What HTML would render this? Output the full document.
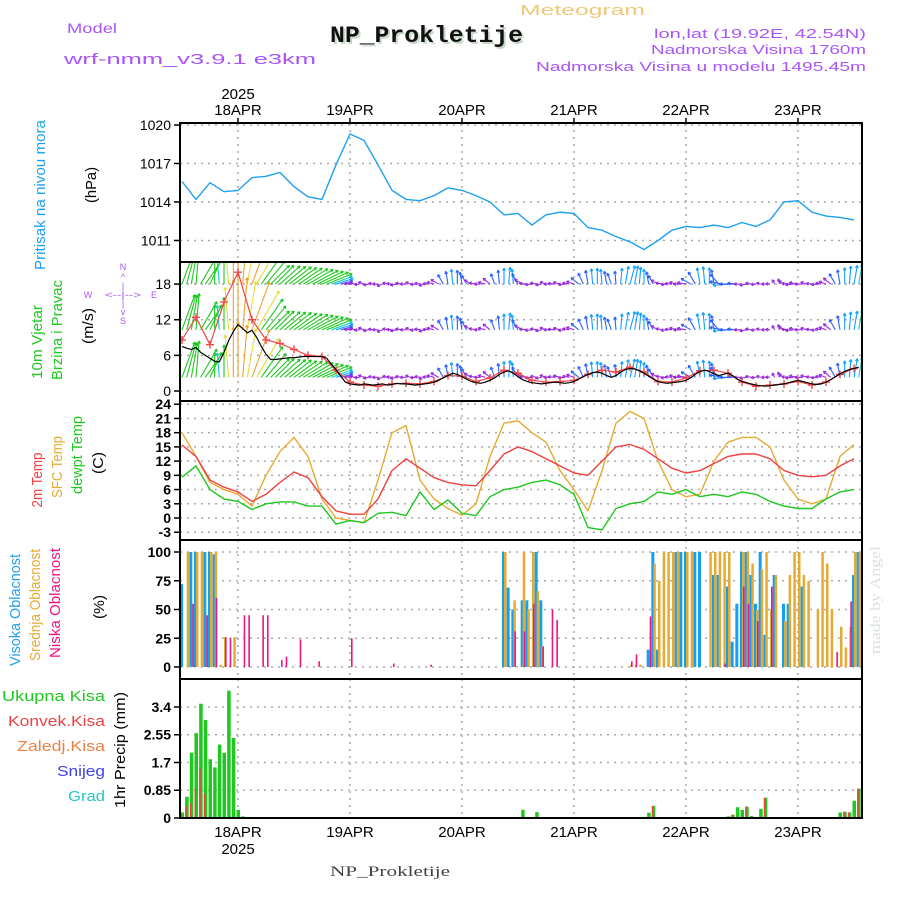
<!DOCTYPE html>
<html><head><meta charset="utf-8"><title>Meteogram NP_Prokletije</title>
<style>
html,body{margin:0;padding:0;background:#fff;}
svg{display:block;font-family:"Liberation Sans",sans-serif;}
</style></head>
<body>
<svg id="chart" width="900" height="900" viewBox="0 0 900 900" xmlns="http://www.w3.org/2000/svg">
<defs>
<clipPath id="cp1"><rect x="180" y="123" width="682" height="139"/></clipPath>
<clipPath id="cp2"><rect x="180" y="262" width="682" height="139"/></clipPath>
<clipPath id="cp3"><rect x="180" y="401" width="682" height="139"/></clipPath>
<clipPath id="cp4"><rect x="180" y="540" width="682" height="139"/></clipPath>
<clipPath id="cp5"><rect x="180" y="679" width="682" height="139"/></clipPath>
</defs>
<g lengthAdjust="spacingAndGlyphs">
<text x="67" y="33" fill="#a855f7" font-size="14" textLength="50" lengthAdjust="spacingAndGlyphs">Model</text>
<text x="64" y="64" fill="#a855f7" font-size="15" textLength="252" lengthAdjust="spacingAndGlyphs">wrf-nmm_v3.9.1 e3km</text>
<text x="332" y="44" fill="#c8d8c8" font-family="Liberation Mono,monospace" font-weight="bold" font-size="23" textLength="193" lengthAdjust="spacingAndGlyphs">NP_Prokletije</text>
<text x="330" y="42" fill="#111" font-family="Liberation Mono,monospace" font-weight="bold" font-size="23" textLength="193" lengthAdjust="spacingAndGlyphs">NP_Prokletije</text>
<text x="520" y="15" fill="#f0c878" font-size="15" textLength="125" lengthAdjust="spacingAndGlyphs">Meteogram</text>
<text x="866" y="38" fill="#a855f7" font-size="13" text-anchor="end" textLength="212" lengthAdjust="spacingAndGlyphs">lon,lat (19.92E, 42.54N)</text>
<text x="866" y="54" fill="#a855f7" font-size="13" text-anchor="end" textLength="215" lengthAdjust="spacingAndGlyphs">Nadmorska Visina 1760m</text>
<text x="866" y="71" fill="#a855f7" font-size="13" text-anchor="end" textLength="330" lengthAdjust="spacingAndGlyphs">Nadmorska Visina u modelu 1495.45m</text>
<text x="880" y="600" fill="#d8e4d8" font-family="Liberation Serif,serif" font-size="15" text-anchor="middle" transform="rotate(-90 880 600)" textLength="108" lengthAdjust="spacingAndGlyphs">made by Angel</text>
<text x="330" y="876" fill="#444" font-family="Liberation Serif,serif" font-size="15" textLength="120" lengthAdjust="spacingAndGlyphs">NP_Prokletije</text>

<text x="45" y="195" fill="#1ea0f0" font-size="15" text-anchor="middle" transform="rotate(-90 45 195)" textLength="150" lengthAdjust="spacingAndGlyphs">Pritisak na nivou mora</text>
<text x="96" y="185" fill="#000" font-size="15" text-anchor="middle" transform="rotate(-90 96 185)" textLength="36" lengthAdjust="spacingAndGlyphs">(hPa)</text>
<text x="42" y="342" fill="#1ec81e" font-size="15" text-anchor="middle" transform="rotate(-90 42 342)" textLength="74" lengthAdjust="spacingAndGlyphs">10m Vjetar</text>
<text x="62" y="330" fill="#1ec81e" font-size="15" text-anchor="middle" transform="rotate(-90 62 330)" textLength="100" lengthAdjust="spacingAndGlyphs">Brzina i Pravac</text>
<text x="93" y="326" fill="#000" font-size="15" text-anchor="middle" transform="rotate(-90 93 326)" textLength="36" lengthAdjust="spacingAndGlyphs">(m/s)</text>
<g fill="#a855f7" font-size="9" text-anchor="middle">
<text x="123" y="270">N</text><text x="123" y="280">^</text><text x="123" y="289">|</text>
<text x="88" y="298">W</text><text x="123" y="298" textLength="36" lengthAdjust="spacingAndGlyphs">&lt;--|--&gt;</text><text x="154" y="298">E</text>
<text x="123" y="307">|</text><text x="123" y="315">v</text><text x="123" y="324">S</text>
</g>
<text x="42" y="480" fill="#f04040" font-size="15" text-anchor="middle" transform="rotate(-90 42 480)" textLength="55" lengthAdjust="spacingAndGlyphs">2m Temp</text>
<text x="62" y="467" fill="#e6aa32" font-size="15" text-anchor="middle" transform="rotate(-90 62 467)" textLength="62" lengthAdjust="spacingAndGlyphs">SFC Temp</text>
<text x="82" y="455" fill="#1ec81e" font-size="15" text-anchor="middle" transform="rotate(-90 82 455)" textLength="78" lengthAdjust="spacingAndGlyphs">dewpt Temp</text>
<text x="103" y="463" fill="#000" font-size="15" text-anchor="middle" transform="rotate(-90 103 463)" textLength="22" lengthAdjust="spacingAndGlyphs">(C)</text>
<text x="20" y="610" fill="#1ea0f0" font-size="15" text-anchor="middle" transform="rotate(-90 20 610)" textLength="112" lengthAdjust="spacingAndGlyphs">Visoka Oblacnost</text>
<text x="40" y="605" fill="#e6aa32" font-size="15" text-anchor="middle" transform="rotate(-90 40 605)" textLength="112" lengthAdjust="spacingAndGlyphs">Srednja Oblacnost</text>
<text x="60" y="603" fill="#f01482" font-size="15" text-anchor="middle" transform="rotate(-90 60 603)" textLength="110" lengthAdjust="spacingAndGlyphs">Niska Oblacnost</text>
<text x="104" y="607" fill="#000" font-size="15" text-anchor="middle" transform="rotate(-90 104 607)" textLength="24" lengthAdjust="spacingAndGlyphs">(%)</text>
<g font-size="15" text-anchor="end">
<text x="105" y="701" fill="#1ec81e" textLength="103" lengthAdjust="spacingAndGlyphs">Ukupna Kisa</text>
<text x="105" y="726" fill="#f04040" textLength="97" lengthAdjust="spacingAndGlyphs">Konvek.Kisa</text>
<text x="105" y="751" fill="#f08040" textLength="88" lengthAdjust="spacingAndGlyphs">Zaledj.Kisa</text>
<text x="105" y="776" fill="#4040f0" textLength="48" lengthAdjust="spacingAndGlyphs">Snijeg</text>
<text x="105" y="801" fill="#20c8c8" textLength="37" lengthAdjust="spacingAndGlyphs">Grad</text>
</g>
<text x="125" y="750" fill="#000" font-size="15" text-anchor="middle" transform="rotate(-90 125 750)" textLength="116" lengthAdjust="spacingAndGlyphs">1hr Precip (mm)</text>
</g>

<g id="grid"></g>
<g id="marks"></g>
<g id="axes"></g>
</svg>
<script>
// ---------- data ----------
const dayLabels = ["18APR","19APR","20APR","21APR","22APR","23APR"];
const dayHours = [0,24,48,72,96,120];
const yearLabel = "2025";
const hours3 = [-12,-9,-6,-3,0,3,6,9,12,15,18,21,24,27,30,33,36,39,42,45,48,51,54,57,60,63,66,69,72,75,78,81,84,87,90,93,96,99,102,105,108,111,114,117,120,123,126,129,132];
const pressure = [1015.6,1014.2,1015.5,1014.8,1014.9,1015.9,1016.0,1016.3,1015.2,1014.4,1014.2,1016.9,1019.3,1018.8,1016.9,1014.9,1014.2,1014.1,1014.5,1015.1,1014.9,1014.5,1014.0,1013.0,1013.1,1012.2,1013.0,1013.2,1013.1,1012.0,1011.8,1011.3,1010.9,1010.3,1011.0,1011.8,1012.1,1012.0,1012.2,1012.0,1012.4,1012.1,1012.6,1014.0,1014.1,1013.2,1012.9,1012.8,1012.6];
const temp2m = [15.4,13,8,6.5,5.5,3.5,5,7.5,9.7,8.5,4.5,1.5,0.8,0.8,4,10,12.5,10.5,8.5,7.5,7,6.8,10,13.5,15,14,12.5,11,9.5,9,12,15,15.5,14.5,12.5,10.5,9.5,10,11.5,13,13.5,13.5,12.5,10,9,8.7,9,11,12.5];
const tempSfc = [18,13,7.5,6,5,2.5,9,14,17,13,4,0,-0.5,-1,8,18,19.5,8,4,2,0.6,3,13,20,20.5,18,16,10,6,1.5,10,20,22.5,21,12,6,4.5,5,12,16,17,17,15,8,4,3,4,13,15.5];
const dewpoint = [8.6,11,6,4,3.5,1.8,3,3.4,3.4,2.5,2.5,-1.3,-0.5,-1,1,1.2,0.5,5.5,1.8,3.8,1,0.5,4.5,6,6.5,7.5,8,7,5,-2,-2.5,2,3,3.5,5.5,5,6,4.5,5,4.5,5.5,5,3.5,2.5,2,2,4,5.5,6];
const windGust = [8.6,12.4,7.8,15,20,12,8.6,8,7,6,5.8,3.5,1.5,1.0,0.8,1.2,1.3,1.2,1.6,2.6,2.5,1.6,2.2,3.5,3.0,1.8,1.5,1.6,1.8,2.8,3.5,3.2,4.0,3.2,1.6,1.5,2.2,3.4,3.5,3.0,1.5,0.8,1.0,1.2,1.6,1.0,1.5,2.8,3.8];
const windStart = -12;
const windSpeed = [7.5,7.2,7.0,7.3,6.5,6.0,5.5,5.0,4.9,6.5,8.5,10.0,
11.2,10.5,9.8,10.2,9.0,7.5,6.2,5.3,5.3,5.4,5.5,5.6,
5.6,5.7,5.8,5.8,5.8,5.8,5.8,5.5,4.5,3.6,2.5,1.5,
1.2,1.1,1.0,1.2,1.1,1.0,1.1,1.2,1.0,1.1,1.3,1.2,
1.2,1.1,1.0,1.1,1.2,1.3,1.5,1.8,2.2,2.6,3.0,2.8,
2.4,2.0,1.6,1.4,1.3,1.5,1.8,2.2,2.8,3.2,3.4,3.0,
2.4,1.9,1.6,1.4,1.3,1.2,1.3,1.4,1.5,1.4,1.3,1.4,
1.6,2.0,2.4,2.8,3.1,3.2,3.0,2.6,2.3,2.6,3.2,3.6,
3.8,3.7,3.4,3.0,2.5,2.0,1.6,1.4,1.3,1.4,1.5,1.6,
1.8,2.2,2.8,3.3,3.5,3.3,2.9,2.6,2.8,3.0,2.6,2.0,
1.6,1.4,1.2,1.0,0.9,0.8,0.9,1.0,1.1,1.2,1.4,1.6,
1.8,1.6,1.4,1.2,1.1,1.2,1.5,1.9,2.4,2.9,3.3,3.6,3.8,4.0];
const windDir = [70,75,80,85,60,55,65,90,95,90,95,90,
90,85,80,70,60,55,50,45,45,42,40,38,
36,34,32,30,28,26,24,22,20,18,15,10,
175,165,185,160,190,170,180,200,165,175,190,170,
180,160,185,170,195,175,165,150,120,100,95,90,
100,120,150,170,180,165,140,110,95,90,85,95,
120,150,175,185,170,190,160,180,175,165,185,170,
160,140,115,100,95,90,95,100,110,95,85,80,
75,80,85,90,100,120,150,170,185,175,165,180,
170,150,120,100,95,90,100,130,170,185,180,175,
180,190,170,185,165,180,175,120,100,150,175,185,
170,180,165,175,185,170,160,140,120,100,90,85,80,80];
const windRows = [18,10.3,2.3];
const highHours = [-12,-10,-9,-7,-6,-5,57,58,59,61,62,64,65,88,89,90,94,95,96,98,99,102,103,105,106,107,108,109,110,111,112,113,115,117,118,121,132,133];
const highVals  = [72,100,100,100,100,98,100,69,50,58,58,100,58,15,100,15,100,100,100,100,100,80,80,70,22,55,100,100,80,55,100,28,80,55,55,70,80,100];
const midHours = [-11,-9,-8,-6,-5,-4,-3,-1,57,59,61,62,63,64,65,84,85,86,89,90,91,92,93,94,96,97,101,102,103,104,105,108,109,110,111,112,113,114,115,117,118,119,120,121,122,124,125,126,127,129,130,131,132,133];
const midVals  = [100,100,100,100,100,2,26,26,100,58,100,50,100,66,18,2,2,2,90,75,100,100,100,100,100,100,100,100,100,100,100,100,100,90,50,85,100,50,80,40,80,100,100,80,75,50,100,90,50,35,17,35,100,100];
const lowHours = [-10,-7,-5,-3,-2,1,2,5,6,9,10,13,17,24,33,41,59,61,63,65,67,68,84,85,88,104,108,109,111,114,128,131];
const lowVals  = [55,45,60,26,25,45,45,45,45,6,9,24,5,25,3,2,31,31,55,18,50,41,5,11,44,3,70,55,40,70,13,57];
const rainHours = [-12,-11,-10,-9,-8,-7,-6,-5,-4,-3,-2,-1,0,1,60,61,64,88,89,105,106,107,108,109,110,111,112,113,114,128,129,130,131,132,133,134];
const rainTotal = [0.17,0.65,2.0,2.6,3.5,3.0,1.8,1.55,2.25,2.0,3.9,2.45,0.25,0.05,0.03,0.25,0.18,0.16,0.37,0.05,0.1,0.33,0.25,0.35,0.06,0.03,0.28,0.62,0.03,0.03,0.17,0.19,0.17,0.53,0.9,0.82];
const convHours = [-12,-11,-10,-9,-8,-7,89,106,109,113,130,131,133,134];
const convVals  = [0.17,0.35,0.45,0.9,1.5,0.75,0.37,0.1,0.35,0.62,0.19,0.17,0.9,0.82];
const presTicks = [1011,1014,1017,1020];
const windTicks = [0,6,12,18];
const tempTicks = [-3,0,3,6,9,12,15,18,21,24];
const cloudTicks = [0,25,50,75,100];
const precipTicks = [0,0.85,1.7,2.55,3.4];

// ---------- scales ----------
const L=180,R=862;
const X = t => 238 + t*112/24;
const Yp = p => 125 + (1020-p)*12.83;
const Yw = v => 391 - v*5.94;
const Yt = T => 518 - T*4.74;
const Yc = c => 667 - c*1.15;
const Yr = r => 818 - r*32.65;
const panels = [[123,262],[262,401],[401,540],[540,679],[679,818]];
const NS="http://www.w3.org/2000/svg";
const grid=document.getElementById('grid'), marks=document.getElementById('marks'), axes=document.getElementById('axes');
function mk(tag,attrs,parent){const e=document.createElementNS(NS,tag);for(const k in attrs)e.setAttribute(k,attrs[k]);parent.appendChild(e);return e;}

panels.forEach((pn,pi)=>{
  dayHours.forEach(h=>{
    const ln=mk('line',{x1:X(h),x2:X(h),y1:pn[0],y2:pn[1],stroke:'#aaa','stroke-width':1.5,'stroke-dasharray':'2,5'},grid);
    
    
  });
});
function hgrid(ticks,Y,labelFn,bold){
  ticks.forEach(v=>{
    const y=Y(v);
    const ln=mk('line',{x1:L,x2:R,y1:y,y2:y,stroke:'#aaa','stroke-width':1.5,'stroke-dasharray':'2,5'},grid);
    
    
    const tk=mk('line',{x1:L-6,x2:L,y1:y,y2:y,stroke:'#000','stroke-width':1.5},axes);
    
    
    const tx=mk('text',{x:L-9,y:y+5,'text-anchor':'end','font-size':14,fill:'#000','font-weight':bold?'bold':'normal'},axes);
    tx.textContent=labelFn(v);
    
    
  });
}
hgrid(presTicks,Yp,v=>v,false);
hgrid(windTicks,Yw,v=>v,false);
hgrid(tempTicks,Yt,v=>v,true);
hgrid(cloudTicks,Yc,v=>v,true);
hgrid(precipTicks,Yr,v=>v,true);

function poly(xs,ys,color,w,clip,name){
  const pts=xs.map((t,i)=>X(t).toFixed(1)+','+ys[i].toFixed(1)).join(' ');
  const p=mk('polyline',{points:pts,fill:'none',stroke:color,'stroke-width':w,'clip-path':'url(#'+clip+')','stroke-linejoin':'round'},marks);
  
  
}
poly(hours3,pressure.map(Yp),'#1ea0f0',1.4,'cp1','pressure-line');
poly(hours3,tempSfc.map(Yt),'#e6aa32',1.4,'cp3','sfc-temp-line');
poly(hours3,temp2m.map(Yt),'#f04040',1.4,'cp3','temp-2m-line');
poly(hours3,dewpoint.map(Yt),'#1ec81e',1.4,'cp3','dewpoint-line');

function wcol(s){if(s<2)return '#9a2be0';if(s<3)return '#2a60ff';if(s<4)return '#10a0ff';if(s<5)return '#10c8c8';if(s<8)return '#1ec81e';if(s<10)return '#e6dc32';if(s<13)return '#f0a030';if(s<16)return '#f04040';return '#f01482';}
const wg=mk('g',{'clip-path':'url(#cp2)'},marks);


windRows.forEach(rv=>{
  const y0=Yw(rv);
  windSpeed.forEach((s,i)=>{
    const t=windStart+i, x0=X(t), a=windDir[i]*Math.PI/180, len=s*5;
    const x1=x0+len*Math.cos(a), y1=y0-len*Math.sin(a);
    const c=wcol(s);
    const g=mk('g',{stroke:c,'stroke-width':1.1,fill:'none'},wg);
    
    
    mk('line',{x1:x0,y1:y0,x2:x1,y2:y1},g);
    const h=3;
    [a+Math.PI-0.5,a+Math.PI+0.5].forEach(b=>{mk('line',{x1:x1,y1:y1,x2:x1+h*Math.cos(b),y2:y1-h*Math.sin(b)},g);});
  });
});
const windHours=windSpeed.map((s,i)=>windStart+i);
poly(hours3,windGust.map(Yw),'#f04848',1.2,'cp2','gust-line');
const gg=mk('g',{stroke:'#f04848','stroke-width':1.4,'clip-path':'url(#cp2)'},marks);


hours3.forEach((t,i)=>{const x=X(t),y=Yw(windGust[i]);const p=mk('path',{d:`M${x-4},${y}H${x+4}M${x},${y-4}V${y+4}`},gg);});
poly(windHours,windSpeed.map(Yw),'#000',1.2,'cp2','wind-speed-line');

function bars(hrs,vals,Y,color,dx,w,clip,name){
  hrs.forEach((t,i)=>{
    const y=Y(vals[i]),y0=Y(0);
    const r=mk('rect',{x:X(t)+dx,y:Math.min(y,y0),width:w,height:Math.abs(y0-y),fill:color,'clip-path':'url(#'+clip+')'},marks);
    
    
  });
}
bars(highHours,highVals,Yc,'#14a0f0',-2,3,'cp4','high-cloud-bar');
bars(midHours,midVals,Yc,'#e6aa32',0,2.5,'cp4','mid-cloud-bar');
bars(lowHours,lowVals,Yc,'#f01482',1,1.6,'cp4','low-cloud-bar');
bars(rainHours,rainTotal,Yr,'#1ec81e',-1.5,3.5,'cp5','total-rain-bar');
bars(convHours,convVals,Yr,'#f04040',-1.5,1.5,'cp5','convective-rain-bar');
const zl=mk('line',{x1:L,x2:R,y1:818,y2:818,stroke:'#000','stroke-width':2,'stroke-dasharray':'5,2'},axes);



panels.forEach((pn,i)=>{
  const r=mk('rect',{x:L,y:pn[0],width:R-L,height:pn[1]-pn[0],fill:'none',stroke:'#000','stroke-width':2},axes);
  
  
});
dayHours.forEach((h,i)=>{
  const x=X(h);
  const a=mk('text',{x:x,y:115,'text-anchor':'middle','font-size':15,fill:'#000'},axes);
  a.textContent=dayLabels[i];
  
  
  const b=mk('text',{x:x,y:837,'text-anchor':'middle','font-size':15,fill:'#000'},axes);
  b.textContent=dayLabels[i];
  
  
  const tk=mk('line',{x1:x,x2:x,y1:118,y2:123,stroke:'#000','stroke-width':1.5},axes);
  
  
});
const y1=mk('text',{x:X(0),y:99,'text-anchor':'middle','font-size':15,fill:'#000'},axes);
y1.textContent=yearLabel;


const y2=mk('text',{x:X(0),y:854,'text-anchor':'middle','font-size':15,fill:'#000'},axes);
y2.textContent=yearLabel;


</script>
</body></html>
